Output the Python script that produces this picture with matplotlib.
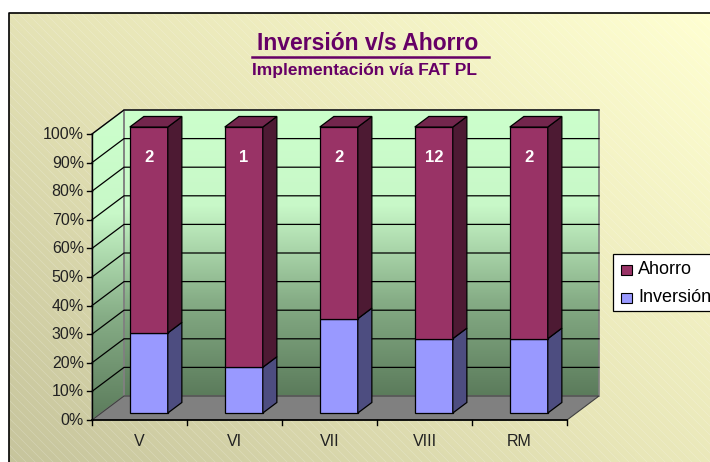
import numpy as np
import matplotlib
matplotlib.use("Agg")
import matplotlib.pyplot as plt
from matplotlib.patches import Polygon
from matplotlib.colors import LinearSegmentedColormap

plt.rcParams['font.family'] = ['Liberation Sans', 'DejaVu Sans']

# data
categories = ['V', 'VI', 'VII', 'VIII', 'RM']
inversion = [28, 16, 33, 26, 26]          # % share
ahorro = [100 - v for v in inversion]
bar_labels = ['2', '1', '2', '12', '2']
yticks = list(range(0, 101, 10))

title = 'Inversión v/s Ahorro'
subtitle = 'Implementación vía FAT PL'
purple = '#660066'

# pseudo-3d geometry (pixels)
X0, Y0 = 92, 420        # front origin
CW = 95                 # category width
VS = 2.86               # px per percent
DX, DY = 32, 24         # depth vector
D1, D2 = 0.29, 0.73     # bar depth range
HW = 0.2                # half bar width (category units)


def P(xc, v, d):
    return (X0 + xc * CW + d * DX, Y0 - v * VS - d * DY)


fig = plt.figure(figsize=(7.1, 4.62), dpi=100)
ax = fig.add_axes([0, 0, 1, 1])
ax.set_xlim(0, 710)
ax.set_ylim(462, 0)
ax.axis('off')

# chart area background (gradient + diagonal stripes)
bg = LinearSegmentedColormap.from_list('bg', ['#c6c49c', '#e8e6b8', '#ffffd2'])
gx, gy = np.meshgrid(np.linspace(0, 1, 200), np.linspace(0, 1, 200))
ax.imshow(0.55 * gx + 0.45 * gy, cmap=bg, extent=(9, 720, 470, 13),
          aspect='auto', origin='lower', zorder=0)
for k in range(-60, 160):
    x = 9 + k * 9
    ax.plot([x, x + 460], [13, 473], color='white', lw=0.5, alpha=0.22, zorder=0.5)
ax.plot([9, 9, 720], [470, 13, 13], color='black', lw=1.2, zorder=1)

nc = len(categories)

# left wall
grn = LinearSegmentedColormap.from_list('grn', ['#5b7b5b', '#86ad86', '#c8f8c8', '#ccffcc'])
wall = np.linspace(0, 1, 256).reshape(-1, 1)
lw_poly = Polygon([P(0, 0, 0), P(0, 100, 0), P(0, 100, 1), P(0, 0, 1)], closed=True,
                  facecolor='none', edgecolor='#808080', lw=1.0, zorder=2)
ax.add_patch(lw_poly)
im = ax.imshow(wall, cmap=grn, extent=(X0, X0 + DX, Y0, Y0 - 100 * VS - DY),
               aspect='auto', origin='lower', zorder=1.5)
im.set_clip_path(lw_poly)

# back wall
bw_poly = Polygon([P(0, 0, 1), P(0, 100, 1), P(nc, 100, 1), P(nc, 0, 1)], closed=True,
                  facecolor='none', edgecolor='#808080', lw=1.2, zorder=2)
ax.add_patch(bw_poly)
bx0, by0 = P(0, 0, 1)
bx1, by1 = P(nc, 100, 1)
ax.imshow(wall, cmap=grn, extent=(bx0, bx1, by0, by1), aspect='auto',
          origin='lower', zorder=1.5)

# floor
ax.add_patch(Polygon([P(0, 0, 0), P(nc, 0, 0), P(nc, 0, 1), P(0, 0, 1)], closed=True,
                     facecolor='#808080', edgecolor='#404040', lw=0.8, zorder=2))

# gridlines
for v in yticks[1:]:
    a, b, c = P(0, v, 0), P(0, v, 1), P(nc, v, 1)
    ax.plot([a[0], b[0], c[0]], [a[1], b[1], c[1]], color='black', lw=0.9, zorder=2.2)

# axes lines and ticks
ax.plot([X0, X0], [Y0, Y0 - 100 * VS], color='black', lw=1.0, zorder=2.3)
ax.plot([X0, X0 + nc * CW], [Y0, Y0], color='black', lw=1.2, zorder=2.3)
for v in yticks:
    x, y = P(0, v, 0)
    ax.plot([x - 5, x], [y, y], color='black', lw=1.0, zorder=2.3)
    ax.text(x - 8, y + 0.5, f'{v}%', ha='right', va='center', fontsize=11.5, color='#222222')
for i in range(nc + 1):
    x, y = P(i, 0, 0)
    ax.plot([x, x], [y, y + 5], color='black', lw=1.0, zorder=2.3)
for i, name in enumerate(categories):
    x, y = P(i + 0.5, 0, 0)
    ax.text(x, y + 21, name, ha='center', va='center', fontsize=11.5, color='#222222')


def box(i, v0, v1, cf, cs, ct, top, z):
    xl, xr = i + 0.5 - HW, i + 0.5 + HW
    front = [P(xl, v0, D1), P(xr, v0, D1), P(xr, v1, D1), P(xl, v1, D1)]
    side = [P(xr, v0, D1), P(xr, v0, D2), P(xr, v1, D2), P(xr, v1, D1)]
    ax.add_patch(Polygon(front, closed=True, facecolor=cf, edgecolor='black', lw=0.9, zorder=z))
    ax.add_patch(Polygon(side, closed=True, facecolor=cs, edgecolor='black', lw=0.9, zorder=z))
    if top:
        tp = [P(xl, v1, D1), P(xr, v1, D1), P(xr, v1, D2), P(xl, v1, D2)]
        ax.add_patch(Polygon(tp, closed=True, facecolor=ct, edgecolor='black', lw=0.9, zorder=z))


for i in range(nc):
    box(i, 0, inversion[i], '#9999ff', '#4d4d80', '#7373bf', False, 3 + i * 0.1)
    box(i, inversion[i], 100, '#993366', '#4d1a33', '#73264d', True, 3 + i * 0.1)
    x, y = P(i + 0.5, 89.5, D1)
    ax.text(x, y, bar_labels[i], ha='center', va='center', fontsize=12,
            fontweight='bold', color='white', zorder=4)

# titles
ax.text(368, 44, title, ha='center', va='center', fontsize=16.5, fontweight='bold',
        color=purple, zorder=4)
ax.plot([252, 489], [56.5, 56.5], color=purple, lw=1.8, zorder=4)
ax.text(365, 70, subtitle, ha='center', va='center', fontsize=12.5, fontweight='bold',
        color=purple, zorder=4)

# legend (cut off at right edge like the reference)
ax.add_patch(Polygon([(613, 254), (730, 254), (730, 311), (613, 311)], closed=True,
                     facecolor='white', edgecolor='black', lw=0.9, zorder=4))
for yy, name, col in [(270, 'Ahorro', '#993366'), (298, 'Inversión', '#9999ff')]:
    ax.add_patch(Polygon([(621, yy - 5), (632, yy - 5), (632, yy + 5), (621, yy + 5)],
                         closed=True, facecolor=col, edgecolor='black', lw=0.8, zorder=5))
    ax.text(638, yy, name, ha='left', va='center', fontsize=13, color='black', zorder=5)

fig.savefig('out.png', dpi=100)
